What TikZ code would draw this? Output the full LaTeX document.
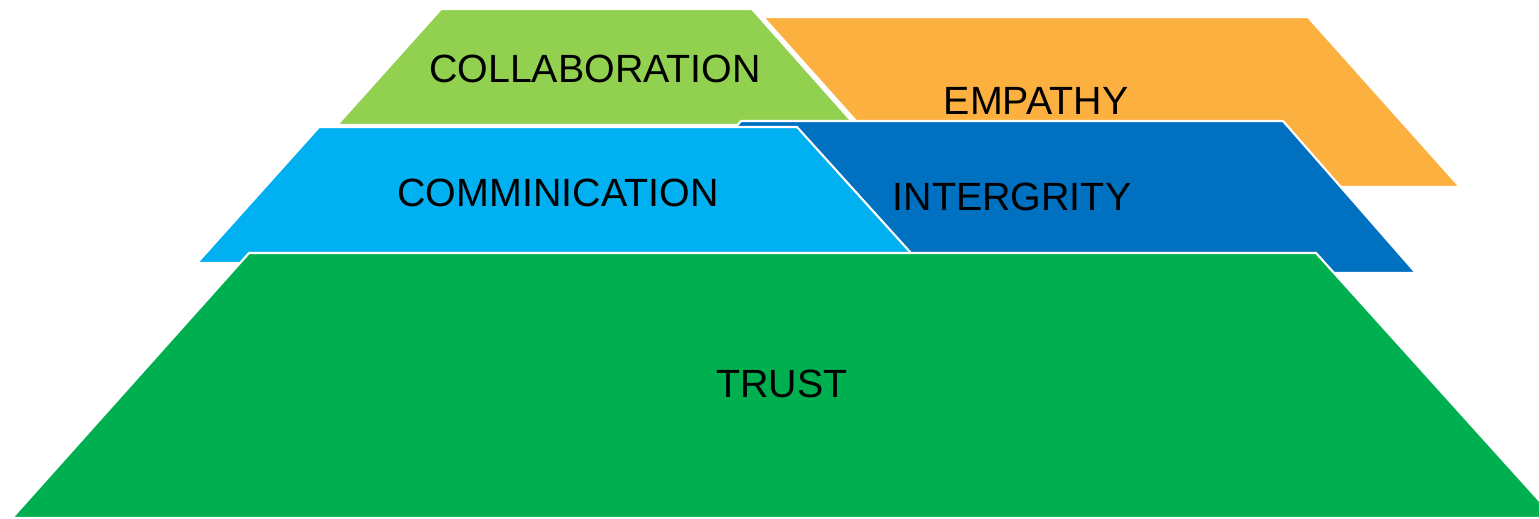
\documentclass[tikz,border=0pt]{standalone}
\usepackage{fontspec}
\setmainfont{Liberation Sans}
\usepackage{tikz}

\definecolor{collabgreen}{RGB}{146,208,80}
\definecolor{empathyorange}{RGB}{251,176,64}
\definecolor{commcyan}{RGB}{0,176,240}
\definecolor{integblue}{RGB}{0,112,192}
\definecolor{trustgreen}{RGB}{0,176,80}

\begin{document}
\begin{tikzpicture}[x=0.01cm,y=-0.01cm,
    layer/.style={draw=white, line width=0.6pt, line join=miter},
    word/.style={font=\fontsize{11.2}{13}\selectfont, text=black, inner sep=0pt}]
        \clip (0,0) rectangle (1539,518);
        \useasboundingbox (0,0) rectangle (1539,518);

        % Layers, back to front
        \filldraw[layer, fill=empathyorange] (763,17) -- (1308,17) -- (1460,187) -- (915,187) -- cycle;
        \filldraw[layer, fill=collabgreen] (441,9) -- (752,9) -- (855,125) -- (337,125) -- cycle;
        \filldraw[layer, fill=integblue] (741,121) -- (1283,121) -- (1416,273) -- (608,273) -- cycle;
        \filldraw[layer, fill=commcyan] (319,127) -- (797,127) -- (920,263) -- (197,263) -- cycle;
        \filldraw[layer, fill=trustgreen] (249,253) -- (1316,253) -- (1555,518) -- (12,518) -- cycle;

        % Nodes
        \node[word] (collab) at (595,69) {COLLABORATION};
        \node[word] (empathy) at (1036,101) {EMPATHY};
        \node[word] (comm) at (558,193) {COMMINICATION};
        \node[word] (integ) at (1012,197) {INTERGRITY};
        \node[word] (trust) at (782,384) {TRUST};
    \end{tikzpicture}
\end{document}
